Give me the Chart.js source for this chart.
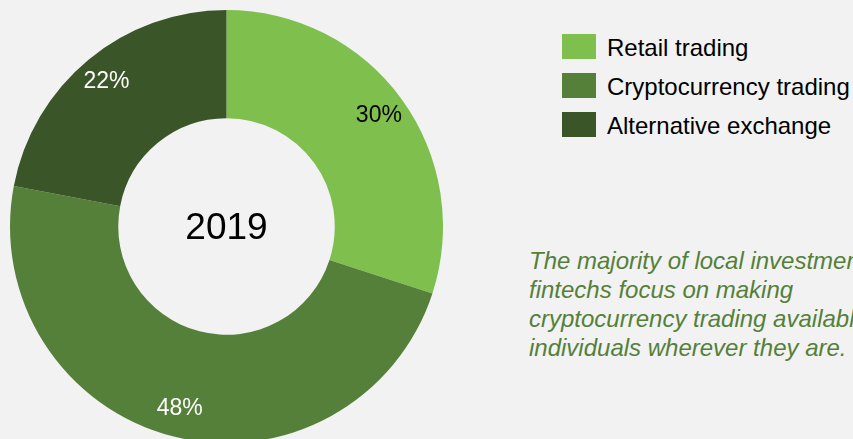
<!DOCTYPE html>
<html>
<head>
<meta charset="utf-8">
<script src="https://cdn.jsdelivr.net/npm/chart.js@4.4.4/dist/chart.umd.min.js"></script>
<style>
    html, body {
        margin: 0;
        padding: 0;
        width: 853px;
        height: 439px;
        overflow: hidden;
        background: #f2f2f2;
        font-family: "Liberation Sans", Arial, sans-serif;
    }
    #chartBox {
        position: absolute;
        left: 10px;
        top: 10px;
        width: 433px;
        height: 433px;
    }
    #legend {
        position: absolute;
        left: 562px;
        top: 34px;
    }
    .legend-row {
        display: flex;
        align-items: center;
        height: 25px;
        margin-bottom: 14px;
        white-space: nowrap;
    }
    .legend-box {
        width: 34px;
        height: 25px;
        margin-right: 11px;
    }
    .legend-text {
        font-size: 24px;
        color: #000;
        position: relative;
        top: 1px;
    }
    #note {
        position: absolute;
        left: 529px;
        top: 246px;
        font-size: 24px;
        line-height: 29px;
        font-style: italic;
        color: #548039;
        white-space: nowrap;
    }
</style>
</head>
<body>
<div id="chartBox"><canvas id="chart"></canvas></div>
<div id="legend"></div>
<div id="note">
    The majority of local investment<br>
    fintechs focus on making<br>
    cryptocurrency trading available to<br>
    individuals wherever they are.
</div>
<script>
const categories = ["Retail trading", "Cryptocurrency trading", "Alternative exchange"];
const shares = [30, 48, 22];
const sliceColors = ["#7fbf4d", "#548039", "#3a5628"];
const labelColors = ["#000000", "#ffffff", "#ffffff"];
const centerLabel = "2019";

// percentage labels placed inside each ring segment
const sliceLabels = {
    id: "sliceLabels",
    afterDatasetsDraw(chart) {
        const ctx = chart.ctx;
        const meta = chart.getDatasetMeta(0);
        ctx.save();
        ctx.font = '23px "Liberation Sans", Arial, sans-serif';
        ctx.textAlign = "center";
        ctx.textBaseline = "middle";
        meta.data.forEach((arc, i) => {
            const p = arc.getProps(["x", "y", "startAngle", "endAngle", "outerRadius"], true);
            const mid = (p.startAngle + p.endAngle) / 2;
            const r = p.outerRadius * 0.87;
            ctx.fillStyle = labelColors[i];
            ctx.fillText(shares[i] + "%", p.x + Math.cos(mid) * r, p.y + Math.sin(mid) * r);
        });
        // year in the hole
        const a = meta.data[0];
        ctx.fillStyle = "#000";
        ctx.font = '37px "Liberation Sans", Arial, sans-serif';
        ctx.fillText(centerLabel, a.x, a.y + 2);
        ctx.restore();
    }
};

const chart = new Chart(document.getElementById("chart"), {
    type: "doughnut",
    data: {
        labels: categories,
        datasets: [{
            data: shares,
            backgroundColor: sliceColors,
            borderWidth: 0,
        }],
    },
    options: {
        responsive: true,
        maintainAspectRatio: false,
        animation: false,
        cutout: "50%",
        layout: {padding: 0},
        plugins: {
            legend: {display: false},
            tooltip: {enabled: false},
        },
    },
    plugins: [sliceLabels],
});

const legend = document.getElementById("legend");
categories.forEach((name, i) => {
    const row = document.createElement("div");
    row.className = "legend-row";
    row.innerHTML = '<div class="legend-box" style="background:' + sliceColors[i] + '"></div>' +
        '<span class="legend-text">' + name + '</span>';
    legend.appendChild(row);
});
</script>
</body>
</html>
